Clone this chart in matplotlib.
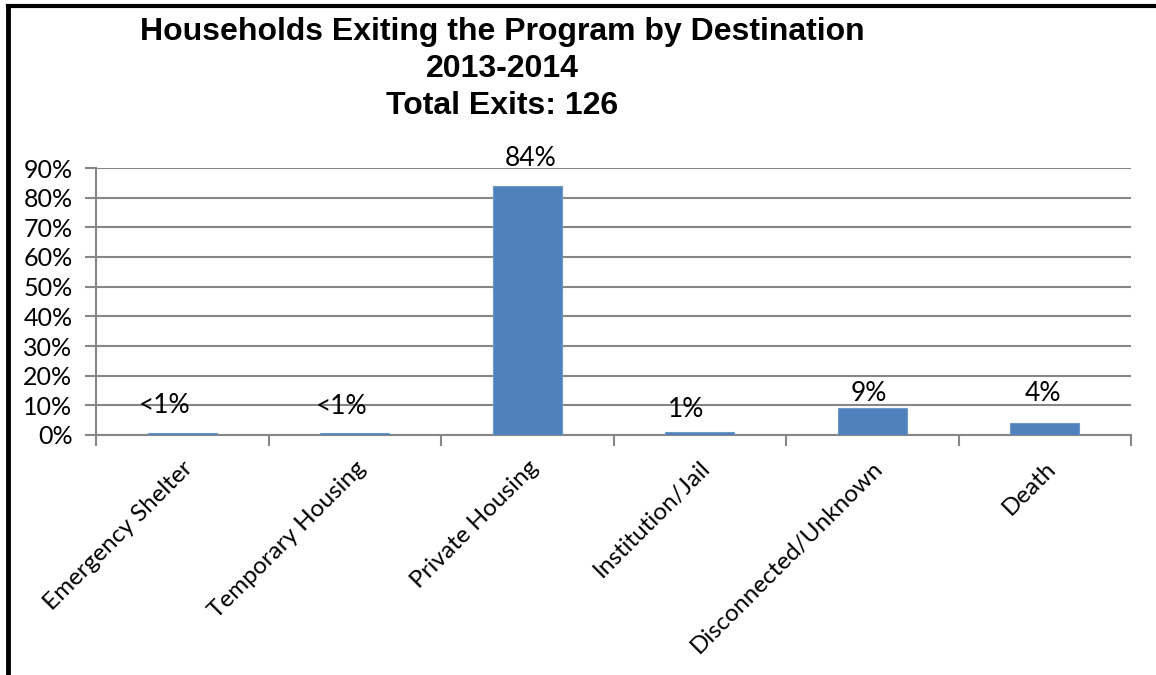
import matplotlib.pyplot as plt
from matplotlib.lines import Line2D
from matplotlib.ticker import FixedLocator, PercentFormatter

destinations = ["Emergency Shelter", "Temporary Housing", "Private Housing",
                "Institution/Jail", "Disconnected/Unknown", "Death"]
share = [0.8, 0.8, 84, 1, 9, 4]
share_labels = ["<1%", "<1%", "84%", "1%", "9%", "4%"]
title_lines = ["Households Exiting the Program by Destination", "2013-2014", "Total Exits: 126"]

# nudges (pixels) for each data label, measured from the bar top centre
label_nudge = [(-18, 27), (-13, 26), (3, 27), (-14, 23), (-3, 15), (-2, 30)]

BAR_BLUE = "#4F81BD"
GRID_GREY = "#868686"

plt.rcParams['font.family'] = ['Lato', 'DejaVu Sans']

fig = plt.figure(figsize=(11.56, 6.75), dpi=100)
ax = fig.add_axes([96 / 1156, 1 - 435 / 675, (1131 - 96) / 1156, (435 - 168) / 675])

x = range(len(destinations))
bars = ax.bar(x, share, width=0.4, color=BAR_BLUE, edgecolor="#6f97c8", linewidth=0.8, zorder=3)

for bar, text, (dx, dy) in zip(bars, share_labels, label_nudge):
    ax.annotate(text, (bar.get_x() + bar.get_width() / 2, bar.get_height()),
                xytext=(dx, dy), textcoords="offset pixels",
                ha="center", va="center", fontsize=19, color="black")

ax.set_xlim(-0.5, len(destinations) - 0.5)
ax.set_ylim(0, 90)
ax.set_yticks(range(0, 91, 10))
ax.yaxis.set_major_formatter(PercentFormatter(decimals=0))
ax.yaxis.grid(True, color=GRID_GREY, linewidth=1.5, zorder=0)
ax.set_axisbelow(True)

ax.set_xticks(list(x))
ax.set_xticklabels(destinations, rotation=45, ha="right", va="top",
                   rotation_mode="anchor", fontsize=17.5)
ax.tick_params(axis="x", which="major", length=0, pad=16)
ax.xaxis.set_minor_locator(FixedLocator([i - 0.5 for i in range(len(destinations) + 1)]))
ax.tick_params(axis="x", which="minor", length=8, width=1.5, color=GRID_GREY, direction="out")
ax.tick_params(axis="y", length=8, width=1.5, color=GRID_GREY, labelsize=18, pad=9)

for side in ["top", "right"]:
    ax.spines[side].set_visible(False)
for side in ["left", "bottom"]:
    ax.spines[side].set_color(GRID_GREY)
    ax.spines[side].set_linewidth(1.5)

for i, line in enumerate(title_lines):
    fig.text(502 / 1156, 1 - (32 + 37 * i) / 675, line, ha="center", va="center",
             fontsize=23, fontweight="bold", family="Liberation Sans")

# outer frame: left and top edges
fig.add_artist(Line2D([8 / 1156, 8 / 1156], [0, 1 - 6 / 675], transform=fig.transFigure,
                      color="black", linewidth=3.5))
fig.add_artist(Line2D([8 / 1156, 1], [1 - 6 / 675, 1 - 6 / 675], transform=fig.transFigure,
                      color="black", linewidth=3))

fig.savefig("out.png", dpi=100, facecolor="white")
